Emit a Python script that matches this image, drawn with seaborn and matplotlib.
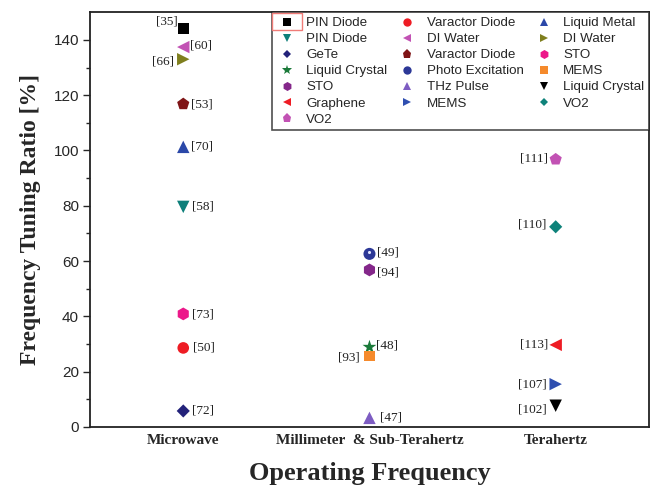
import numpy as np
import pandas as pd
import seaborn as sns
import matplotlib
matplotlib.use("Agg")
import matplotlib.pyplot as plt
from matplotlib.lines import Line2D
from matplotlib.patches import Rectangle

# Reported frequency tuning ratios, grouped by operating band
materials = ["PIN Diode", "Varactor Diode", "Liquid Metal", "PIN Diode", "DI Water",
             "DI Water", "GeTe", "Varactor Diode", "STO", "Liquid Crystal",
             "Photo Excitation", "MEMS", "STO", "THz Pulse", "Liquid Crystal",
             "Graphene", "MEMS", "VO2", "VO2"]
bands = ["Microwave"] * 9 + ["Millimeter  & Sub-Terahertz"] * 5 + ["Terahertz"] * 5
ratios = [144.0, 28.6, 101.3, 79.6, 137.4, 133.0, 5.8, 116.8, 40.9,
          28.9, 62.6, 25.7, 56.8, 3.3,
          7.7, 29.7, 15.5, 72.4, 96.8]
refs = ["[35]", "[50]", "[70]", "[58]", "[60]", "[66]", "[72]", "[53]", "[73]",
        "[48]", "[49]", "[93]", "[94]", "[47]",
        "[102]", "[113]", "[107]", "[110]", "[111]"]

# Marker / colour cycle for the series
markers = ["s", "o", "^", "v", "<", ">", "D", "p", "h", "*",
           "o", "s", "h", "^", "v", "<", ">", "D", "p"]
colors = ["#000000", "#ee1c24", "#2b48a8", "#0d7f7a", "#c252b4", "#7f7f1e",
          "#23227a", "#7f1416", "#ec188a", "#1b7a3a", "#2c3897", "#f58a2c",
          "#84278a", "#7d5cc2", "#000000", "#ee1c24", "#2f4fb0", "#0e827a",
          "#c252b4"]
sizes = [60, 70, 80, 80, 80, 80, 45, 85, 85, 110, 75, 60, 85, 80, 80, 80, 80, 45, 85]
legend_sizes = [5.5, 6, 6, 6, 6, 6, 4.5, 6.5, 6.5, 7.5, 6, 5.5, 6.5, 6, 6, 6, 6, 4.5, 6.5]

# Label placement (pixel offsets from the marker, alignment)
label_pos = [(-6, 7, "right"), (10, 0, "left"), (8, 0, "left"), (9, 0, "left"),
             (7, 2, "left"), (-9, -2, "right"), (9, 0, "left"), (8, 0, "left"),
             (9, -1, "left"), (7, 2, "left"), (8, 1, "left"), (-10, -2, "right"),
             (8, -3, "left"), (11, 0, "left"), (-9, -4, "right"), (-7, 0, "right"),
             (-9, 0, "right"), (-9, 2, "right"), (-8, 1, "right")]

keys = [f"{m}#{i}" for i, m in enumerate(materials)]
df = pd.DataFrame({"key": keys, "band": bands, "ratio": ratios})

sns.set_style("ticks")
fig = plt.figure(figsize=(6.58, 4.88), dpi=100)
ax = fig.add_axes([0.137, 0.125, 0.849, 0.850])

sns.scatterplot(data=df, x="band", y="ratio", hue="key", style="key", size="key",
                palette=dict(zip(keys, colors)), markers=dict(zip(keys, markers)),
                sizes=dict(zip(keys, sizes)), linewidth=0, edgecolor="none",
                legend=False, ax=ax, zorder=3)

xpos = {b: i for i, b in enumerate(dict.fromkeys(bands))}

# small highlight on the "photo excitation" sphere marker
pe = materials.index("Photo Excitation")
ax.scatter([xpos[bands[pe]] - 0.004], [ratios[pe] + 0.6], s=5, color="#dfe3ff",
           marker="o", zorder=4, linewidths=0)

serif = ["Liberation Serif", "DejaVu Serif"]
sans = ["Liberation Sans", "DejaVu Sans"]

for b, y, r, (dx, dy, ha) in zip(bands, ratios, refs, label_pos):
    ax.annotate(r, xy=(xpos[b], y), xytext=(dx, dy), textcoords="offset pixels",
                ha=ha, va="center", fontsize=9.5, family=serif, color="#222222")

ax.set_xlim(-0.5, 2.5)
ax.set_ylim(0, 150)
ax.set_yticks(np.arange(0, 141, 20))
ax.set_yticks(np.arange(0, 150, 10), minor=True)
ax.tick_params(axis="y", which="major", direction="out", length=5, width=1,
               labelsize=11, pad=3)
ax.tick_params(axis="y", which="minor", direction="out", length=3, width=1)
ax.tick_params(axis="x", length=0, pad=5)
for lab in ax.get_yticklabels():
    lab.set_family(sans)
for lab in ax.get_xticklabels():
    lab.set_family(serif)
    lab.set_fontweight("bold")
    lab.set_fontsize(11)

for s in ax.spines.values():
    s.set_visible(True)
    s.set_linewidth(1.3)
    s.set_color("#222222")

ax.set_xlabel("Operating Frequency", family=serif, fontweight="bold",
              fontsize=19, labelpad=11)
ax.set_ylabel("Frequency Tuning Ratio [%]", family=serif, fontweight="bold",
              fontsize=17, labelpad=9)

# legend reads row by row across three columns
handles = [Line2D([], [], linestyle="none", marker=m, color=c, markersize=ms,
                  markeredgewidth=0, label=lab)
           for m, c, ms, lab in zip(markers, colors, legend_sizes, materials)]
ncol = 3
order = [i for c in range(ncol) for i in range(c, len(handles), ncol)]
handles = [handles[i] for i in order]
leg = ax.legend(handles=handles, ncol=ncol, loc="upper right", borderaxespad=0,
                frameon=True, fancybox=False, edgecolor="#222222",
                prop={"family": sans, "size": 9.6}, labelspacing=0.28,
                columnspacing=0.75, handletextpad=0.7, handlelength=1.5,
                borderpad=0.35)
leg.get_frame().set_linewidth(1.2)

fig.canvas.draw()
bb = leg.legend_handles[0].get_window_extent().transformed(fig.transFigure.inverted())
cx, cy = (bb.x0 + bb.x1) / 2, (bb.y0 + bb.y1) / 2
w, h = 30 / 658, 17 / 488
fig.patches.append(Rectangle((cx - w / 2, cy - h / 2), w, h, transform=fig.transFigure,
                             fill=False, edgecolor="#f07c78", linewidth=1.0))

fig.savefig("out.png", dpi=100)
